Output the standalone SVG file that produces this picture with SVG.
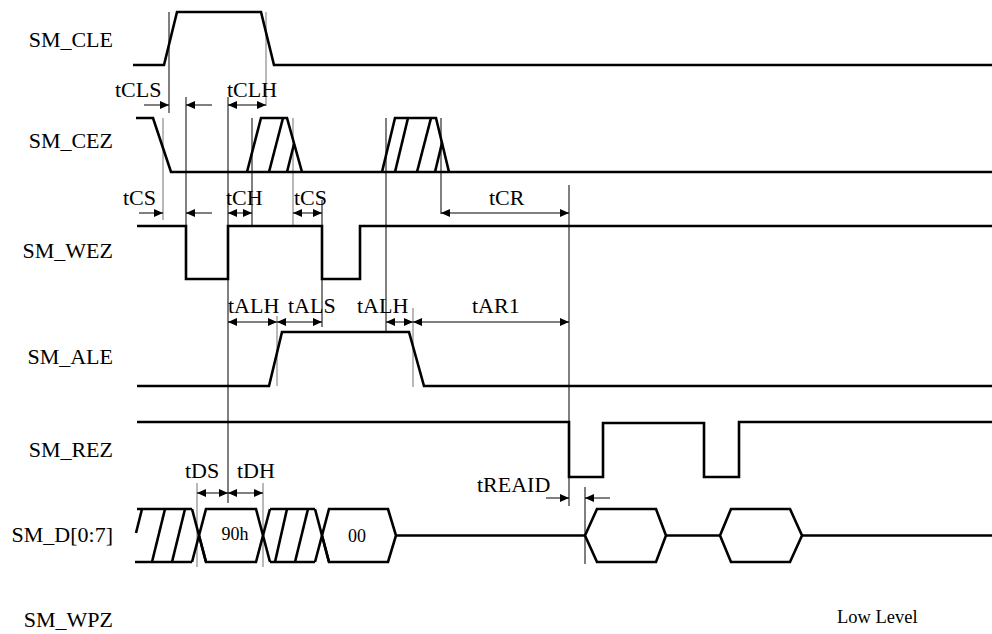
<svg xmlns="http://www.w3.org/2000/svg" width="992" height="634" viewBox="0 0 992 634">
<defs>
<marker id="ah" markerUnits="userSpaceOnUse" markerWidth="10" markerHeight="8" refX="9" refY="4" orient="auto-start-reverse">
<path d="M0,0 L9,4 L0,8 z" fill="#000"/>
</marker>
<style>
.sig{fill:none;stroke:#000;stroke-width:2.6;stroke-linejoin:miter}
.g{stroke:#000;stroke-width:1;fill:none}
.gg{stroke:#8a8a8a;stroke-width:1.2;fill:none}
.a{stroke:#000;stroke-width:1;fill:none;marker-end:url(#ah)}
.d{stroke:#000;stroke-width:1;fill:none;marker-start:url(#ah);marker-end:url(#ah)}
.lbl{font-family:"Liberation Serif","Times New Roman",serif;font-size:22px;fill:#000}
.t{font-family:"Liberation Serif","Times New Roman",serif;font-size:22px;fill:#000}
.s{font-family:"Liberation Serif","Times New Roman",serif;font-size:18px;fill:#000}
</style>
</defs>
<rect width="992" height="634" fill="#fff"/>

<g id="labels">
<text class="lbl" x="113" y="47" text-anchor="end">SM_CLE</text>
<text class="lbl" x="113" y="148" text-anchor="end">SM_CEZ</text>
<text class="lbl" x="113" y="258" text-anchor="end">SM_WEZ</text>
<text class="lbl" x="113" y="364" text-anchor="end">SM_ALE</text>
<text class="lbl" x="113" y="457" text-anchor="end">SM_REZ</text>
<text class="lbl" x="113" y="542" text-anchor="end">SM_D[0:7]</text>
<text class="lbl" x="113" y="627" text-anchor="end">SM_WPZ</text>
<text class="s" x="837" y="623" style="font-size:18.5px">Low Level</text>
</g>

<g id="guides">
<line class="g" x1="169" y1="12" x2="169" y2="113"/>
<line class="gg" x1="163" y1="118" x2="163" y2="220"/>
<line class="g" x1="186" y1="97" x2="186" y2="226"/>
<line class="g" x1="228" y1="97" x2="228" y2="503"/>
<line class="gg" x1="266" y1="12" x2="266" y2="106"/>
<line class="g" x1="252" y1="118" x2="252" y2="226"/>
<line class="gg" x1="293" y1="118" x2="293" y2="226"/>
<line class="g" x1="322" y1="200" x2="322" y2="327"/>
<line class="g" x1="386" y1="118" x2="386" y2="332"/>
<line class="g" x1="441" y1="118" x2="441" y2="214"/>
<line class="g" x1="569" y1="185" x2="569" y2="506"/>
<line class="gg" x1="277" y1="316" x2="277" y2="386"/>
<line class="gg" x1="413" y1="308" x2="413" y2="387"/>
<line class="gg" x1="197" y1="483" x2="197" y2="567"/>
<line class="gg" x1="263" y1="483" x2="263" y2="567"/>
<line class="g" x1="585" y1="487" x2="585" y2="564"/>
</g>

<g id="SM_CLE">
<polyline class="sig" points="133,65 164,65 177,12 261,12 274,65 992,65"/>
</g>

<g id="SM_CEZ">
<polyline class="sig" points="136,118 153,118 171,172 992,172"/>
<polyline class="sig" points="247,172 261,118 287,118 302,172"/>
<line class="sig" x1="269" y1="172" x2="283" y2="118"/>
<line class="sig" x1="287" y1="172" x2="294" y2="144"/>
<polyline class="sig" points="382,172 395,118 436,118 449,172"/>
<line class="sig" x1="395" y1="172" x2="408" y2="118"/>
<line class="sig" x1="417" y1="172" x2="431" y2="118"/>
<line class="sig" x1="435" y1="172" x2="442" y2="143"/>
</g>

<g id="SM_WEZ">
<polyline class="sig" points="137,226 186,226 186,279 228,279 228,226 322,226 322,279 360,279 360,226 992,226"/>
</g>

<g id="SM_ALE">
<polyline class="sig" points="137,386 269,386 282,332 409,332 424,386 992,386"/>
</g>

<g id="SM_REZ">
<polyline class="sig" points="137,422 569,422 569,477 603,477 603,423 704,423 704,477 739,477 739,422 992,422"/>
</g>

<g id="SM_D">
<line class="sig" x1="137" y1="509" x2="192" y2="509"/>
<line class="sig" x1="135" y1="562" x2="192" y2="562"/>
<line class="sig" x1="142" y1="509" x2="136" y2="533"/>
<line class="sig" x1="152" y1="562" x2="165" y2="509"/>
<line class="sig" x1="172" y1="562" x2="185" y2="509"/>
<line class="sig" x1="192" y1="509" x2="206" y2="562"/>
<polyline class="sig" points="192,562 199,535.5 206,509 256,509 263,535.5 256,562 206,562 199,535.5"/>
<line class="sig" x1="263" y1="535.5" x2="270" y2="509"/>
<line class="sig" x1="263" y1="535.5" x2="270" y2="562"/>
<line class="sig" x1="270" y1="509" x2="315" y2="509"/>
<line class="sig" x1="270" y1="562" x2="315" y2="562"/>
<line class="sig" x1="275" y1="562" x2="287" y2="509"/>
<line class="sig" x1="295" y1="562" x2="308" y2="509"/>
<line class="sig" x1="315" y1="509" x2="329" y2="562"/>
<polyline class="sig" points="315,562 322,535.5 329,509 388,509 396,535.5 388,562 329,562 322,535.5"/>
<line class="sig" x1="396" y1="535.5" x2="585" y2="535.5"/>
<polygon class="sig" points="585,535.5 597,509 656,509 666,535.5 656,562 597,562"/>
<line class="sig" x1="666" y1="535.5" x2="720" y2="535.5"/>
<polygon class="sig" points="720,535.5 731,509 790,509 802,535.5 790,562 731,562"/>
<line class="sig" x1="802" y1="535.5" x2="992" y2="535.5"/>
<text class="s" x="235" y="540" text-anchor="middle">90h</text>
<text class="s" x="357" y="542" text-anchor="middle">00</text>
</g>

<g id="connectors">
<line class="a" x1="144" y1="105" x2="169" y2="105"/>
<line class="a" x1="212" y1="105" x2="186" y2="105"/>
<line class="d" x1="228" y1="105" x2="266" y2="105"/>
<line class="a" x1="139" y1="213" x2="163" y2="213"/>
<line class="a" x1="212" y1="213" x2="186" y2="213"/>
<line class="d" x1="228" y1="213" x2="252" y2="213"/>
<line class="d" x1="293" y1="213" x2="322" y2="213"/>
<line class="d" x1="441" y1="213" x2="569" y2="213"/>
<line class="d" x1="228" y1="322" x2="277" y2="322"/>
<line class="d" x1="277" y1="322" x2="322" y2="322"/>
<line class="d" x1="386" y1="322" x2="413" y2="322"/>
<line class="d" x1="413" y1="322" x2="569" y2="322"/>
<line class="d" x1="197" y1="493" x2="228" y2="493"/>
<line class="d" x1="228" y1="493" x2="263" y2="493"/>
<line class="a" x1="546" y1="498" x2="569" y2="498"/>
<line class="a" x1="610" y1="498" x2="585" y2="498"/>
</g>

<g id="timing-labels">
<text class="t" x="115" y="97">tCLS</text>
<text class="t" x="227" y="97">tCLH</text>
<text class="t" x="123" y="205">tCS</text>
<text class="t" x="226" y="205">tCH</text>
<text class="t" x="294" y="205">tCS</text>
<text class="t" x="489" y="205">tCR</text>
<text class="t" x="228" y="313">tALH</text>
<text class="t" x="288" y="313">tALS</text>
<text class="t" x="357" y="313">tALH</text>
<text class="t" x="472" y="313">tAR1</text>
<text class="t" x="185" y="478">tDS</text>
<text class="t" x="237" y="478">tDH</text>
<text class="t" x="477" y="492">tREAID</text>
</g>
</svg>
